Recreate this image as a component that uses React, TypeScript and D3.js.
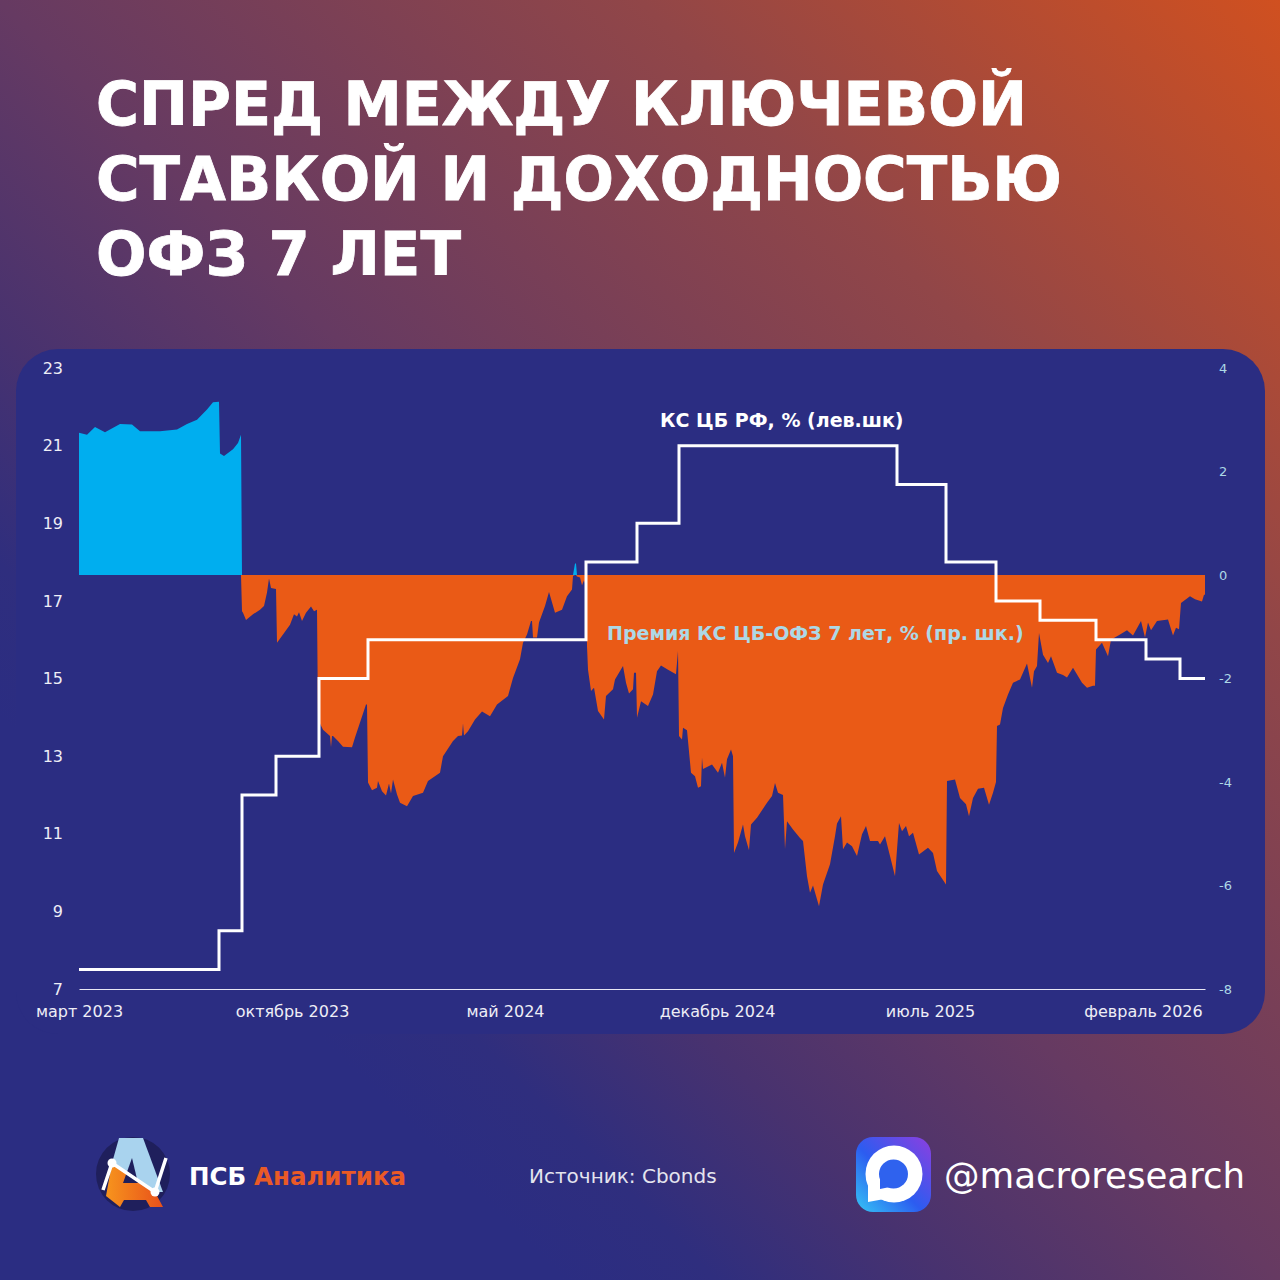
import React, { useEffect, useRef } from 'react'
import * as d3 from 'd3'

const titleLines = ['СПРЕД МЕЖДУ КЛЮЧЕВОЙ', 'СТАВКОЙ И ДОХОДНОСТЬЮ', 'ОФЗ 7 ЛЕТ']
const titleWidths = [931, 966, 365]

// category axis: observation number along the source chart
const lastObs = 1126
const tickObs = [0, 213, 426, 638, 851, 1064]
const tickLabels = ['март 2023', 'октябрь 2023', 'май 2024', 'декабрь 2024', 'июль 2025', 'февраль 2026']
const leftTicks = [7, 9, 11, 13, 15, 17, 19, 21, 23]
const rightTicks = [-8, -6, -4, -2, 0, 2, 4]

const rateObs = [0, 140, 163, 197, 240, 289, 507, 558, 600, 818, 867, 917, 961, 1017, 1067, 1101, 1126]
const rateValues = [7.5, 8.5, 12, 13, 15, 16, 18, 19, 21, 20, 18, 17, 16.5, 16, 15.5, 15, 15]

type Reading = [number, number]
const spreadRate8: Reading[] = [
  [0, 2.75], [8, 2.71], [16, 2.86], [26, 2.76], [41, 2.92], [53, 2.91], [61, 2.78], [81, 2.78], [98, 2.81],
  [108, 2.92], [118, 3.0], [128, 3.2], [134, 3.34], [140, 3.35], [141, 2.35], [145, 2.3], [154, 2.43], [159, 2.55], [162, 2.71],
]
const spreadRate12: Reading[] = [
  [163, -0.7], [164, -0.73], [167, -0.87], [174, -0.76], [181, -0.67], [185, -0.6], [188, -0.34], [190, -0.07], [192, -0.25], [197, -0.27],
  [198, -1.31], [204, -1.15], [211, -0.96], [215, -0.76], [218, -0.8], [220, -0.72], [223, -0.89], [227, -0.73], [232, -0.61], [235, -0.7], [238, -0.67],
]
const spreadRate15: Reading[] = [
  [239, -2.79], [244, -2.99], [251, -3.11], [252, -3.33], [253, -3.11], [254, -3.11], [259, -3.21], [264, -3.32], [273, -3.33], [276, -3.14], [281, -2.85], [287, -2.5], [288, -2.5],
]
const spreadRate16: Reading[] = [
  [289, -4.01], [293, -4.16], [298, -4.11], [299, -3.98], [303, -4.18], [307, -4.26], [310, -4.03], [312, -4.22], [314, -3.95], [318, -4.24],
  [321, -4.4], [328, -4.47], [334, -4.27], [344, -4.21], [349, -3.98], [361, -3.82], [364, -3.5], [374, -3.21], [379, -3.11], [383, -3.1], [384, -2.87], [385, -3.1],
  [389, -3.02], [396, -2.79], [403, -2.64], [411, -2.73], [418, -2.5], [429, -2.34], [434, -1.99], [441, -1.63], [444, -1.31], [448, -1.15], [452, -0.89], [453, -0.89], [454, -1.21],
  [458, -1.21], [460, -0.92], [466, -0.6], [470, -0.33], [476, -0.73], [483, -0.67], [488, -0.41], [493, -0.28], [494, -0.02], [496, 0.22], [497, 0.22], [498, -0.03],
  [501, -0.05], [503, -0.2], [505, -0.1], [507, -0.22],
]
const spreadRate18: Reading[] = [
  [508, -1.38], [509, -1.83], [512, -2.24], [515, -2.18], [519, -2.63], [525, -2.79], [527, -2.34], [534, -2.21], [536, -2.02], [544, -1.76], [547, -2.08], [550, -2.29], [554, -2.21], [555, -1.89], [557, -1.89],
  [558, -2.76], [562, -2.44], [569, -2.53], [574, -2.31], [578, -1.86], [582, -1.75], [589, -1.83], [597, -1.92], [599, -1.47],
]
const spreadRate21: Reading[] = [
  [600, -3.11], [603, -3.18], [604, -2.95], [608, -3.0], [612, -3.82], [616, -3.89], [619, -4.11], [622, -4.08], [623, -3.53], [624, -3.75], [633, -3.66], [639, -3.82], [643, -3.63], [646, -3.92], [648, -3.56], [652, -3.37], [654, -3.5],
  [655, -5.37], [659, -5.17], [664, -4.82], [666, -5.05], [670, -5.32], [672, -4.82], [678, -4.69], [688, -4.4], [693, -4.27], [696, -4.02], [699, -4.21], [704, -4.25], [706, -5.3], [708, -4.76], [714, -4.92], [721, -5.08], [724, -5.14],
  [728, -5.82], [731, -6.14], [734, -6.0], [740, -6.4], [744, -5.98], [751, -5.59], [756, -5.05], [758, -4.8], [762, -4.66], [764, -5.3], [768, -5.17], [773, -5.24], [778, -5.43], [783, -5.01], [787, -4.85], [791, -5.14], [799, -5.14],
  [801, -5.21], [806, -5.05], [811, -5.43], [816, -5.82],
]
const spreadRate20: Reading[] = [
  [820, -4.79], [823, -4.95], [827, -4.85], [830, -5.05], [834, -4.98], [840, -5.4], [849, -5.27], [854, -5.37], [858, -5.72], [867, -5.98],
]
const spreadRate18b: Reading[] = [
  [868, -3.98], [876, -3.95], [881, -4.31], [887, -4.43], [890, -4.66], [894, -4.31], [899, -4.13], [905, -4.11], [910, -4.44], [914, -4.21], [917, -4.0],
]
const spreadRate17: Reading[] = [
  [918, -2.92], [921, -2.89], [924, -2.57], [929, -2.31], [934, -2.08], [941, -2.02], [948, -1.71], [953, -2.18], [955, -1.86], [958, -1.76],
  [960, -1.12], [964, -1.54], [969, -1.7], [972, -1.57], [978, -1.89], [984, -1.93], [988, -1.98], [994, -1.79], [1003, -2.08], [1008, -2.18], [1014, -2.14], [1016, -2.14],
]
const spreadRate16b: Reading[] = [
  [1017, -1.44], [1023, -1.31], [1029, -1.57], [1032, -1.25], [1041, -1.15], [1048, -1.07], [1054, -1.17], [1062, -0.89], [1066, -1.21], [1069, -0.92], [1072, -1.07], [1078, -0.89], [1089, -0.86], [1094, -1.17], [1097, -1.02], [1100, -1.05],
  [1102, -0.54], [1111, -0.41], [1116, -0.47], [1123, -0.51], [1125, -0.38], [1126, -0.38],
]
const spread = [
  ...spreadRate8, ...spreadRate12, ...spreadRate15, ...spreadRate16, ...spreadRate18, ...spreadRate21,
  ...spreadRate20, ...spreadRate18b, ...spreadRate17, ...spreadRate16b,
]

const NAVY = '#2b2d82'
const ORANGE = '#ea5a16'
const CYAN = '#00aeef'
const PALE = '#add8e6'
const FONT = '"DejaVu Sans", sans-serif'

export default function App() {
  const svgRef = useRef<SVGSVGElement | null>(null)

  useEffect(() => {
    const svg = d3.select(svgRef.current)
    svg.selectAll('*').remove()

    const defs = svg.append('defs')
    const hot = defs.append('linearGradient').attr('id', 'hot')
      .attr('gradientUnits', 'userSpaceOnUse')
      .attr('x1', 1280).attr('y1', 0).attr('x2', 0).attr('y2', 1280)
    const hotStops: [number, string][] = [[0, '#d05020'], [0.25, '#914648'], [0.5, '#663a62'], [0.63, '#48326f'], [0.72, '#2f2e7e'], [0.78, NAVY], [1, NAVY]]
    hotStops.forEach(([o, c]) => hot.append('stop').attr('offset', o).attr('stop-color', c))
    const logoFill = defs.append('linearGradient').attr('id', 'logoFill').attr('x1', 0).attr('x2', 1)
    logoFill.append('stop').attr('offset', 0).attr('stop-color', '#f7941d')
    logoFill.append('stop').attr('offset', 1).attr('stop-color', '#e8501a')
    const chat = defs.append('linearGradient').attr('id', 'chat')
      .attr('x1', 0).attr('y1', 1).attr('x2', 1).attr('y2', 0)
    chat.append('stop').attr('offset', 0).attr('stop-color', '#35c6f5')
    chat.append('stop').attr('offset', 0.45).attr('stop-color', '#2c5cf0')
    chat.append('stop').attr('offset', 1).attr('stop-color', '#8d3fe0')

    svg.append('rect').attr('width', 1280).attr('height', 1280).attr('fill', 'url(#hot)')

    svg.append('g').selectAll('text').data(titleLines).join('text')
      .attr('x', 96).attr('y', (_, i) => 125 + i * 75)
      .attr('font-family', FONT).attr('font-weight', 700).attr('font-size', 60)
      .attr('textLength', (_, i) => titleWidths[i]).attr('lengthAdjust', 'spacingAndGlyphs')
      .attr('stroke', '#fff').attr('stroke-width', 0.8)
      .attr('fill', '#fff').text(d => d)

    svg.append('rect').attr('x', 16).attr('y', 349).attr('width', 1249).attr('height', 685)
      .attr('rx', 42).attr('fill', NAVY)

    const x = d3.scaleLinear().domain([0, lastObs]).range([79, 1205])
    const yLeft = d3.scaleLinear().domain([7, 23]).range([989, 368])
    const yRight = d3.scaleLinear().domain([-8, 4]).range([989, 368])

    const area = (pick: (v: number) => number) => d3.area<Reading>()
      .x(d => x(d[0])).y0(yRight(0)).y1(d => yRight(pick(d[1])))

    svg.append('path').datum(spread).attr('d', area(v => Math.min(v, 0))).attr('fill', ORANGE)
    svg.append('path').datum(spread).attr('d', area(v => Math.max(v, 0))).attr('fill', CYAN)

    const rateLine = d3.line<number>()
      .x((_, i) => x(rateObs[i])).y(d => yLeft(d)).curve(d3.curveStepAfter)
    svg.append('path').datum(rateValues).attr('d', rateLine)
      .attr('fill', 'none').attr('stroke', '#fff').attr('stroke-width', 3)

    const bottom = svg.append('g').attr('transform', `translate(0,${yLeft(7)})`)
      .call(d3.axisBottom(x).tickValues(tickObs).tickSize(0).tickPadding(17)
        .tickFormat((_, i) => tickLabels[i]))
    bottom.select('.domain').attr('stroke', '#e8e8f4').attr('stroke-width', 1)
    bottom.selectAll('text').attr('font-family', FONT).attr('font-size', 16).attr('fill', '#eeeef6')

    const left = svg.append('g').attr('transform', 'translate(79,0)')
      .call(d3.axisLeft(yLeft).tickValues(leftTicks).tickSize(0).tickPadding(16))
    left.select('.domain').remove()
    left.selectAll('text').attr('font-family', FONT).attr('font-size', 16).attr('fill', '#eeeef6')

    const right = svg.append('g').attr('transform', 'translate(1205,0)')
      .call(d3.axisRight(yRight).tickValues(rightTicks).tickSize(0).tickPadding(14)
        .tickFormat(d => String(d)))
    right.select('.domain').remove()
    right.selectAll('text').attr('font-family', FONT).attr('font-size', 13).attr('fill', PALE)

    const label = (tx: number, ty: number, text: string, fill: string, size: number, weight = 400) =>
      svg.append('text').attr('x', tx).attr('y', ty).attr('font-family', FONT)
        .attr('font-size', size).attr('font-weight', weight).attr('fill', fill).text(text)

    label(660, 427, 'КС ЦБ РФ, % (лев.шк)', '#fff', 19, 700)
    label(607, 640, 'Премия КС ЦБ-ОФЗ 7 лет, % (пр. шк.)', PALE, 19, 700)
    label(529, 1183, 'Источник: Cbonds', '#e4e4ee', 20)
    label(189, 1185, 'ПСБ', '#fff', 24.5, 700)
    label(254, 1185, 'Аналитика', '#ea5a26', 24.5, 700)
    label(944, 1188, '@macroresearch', '#fff', 35.6)

    // ПСБ logo
    const logo = svg.append('g')
    logo.append('circle').attr('cx', 133).attr('cy', 1174).attr('r', 37).attr('fill', '#1f1f5c')
    logo.append('path').attr('d', 'M119 1138 H143 L163 1192 L155 1192 L112 1163 Z').attr('fill', '#a9d3ee')
    logo.append('path').attr('d', 'M112 1163 L155 1192 L163 1207 L150 1207 L146 1200 H124 L120 1207 L106 1196 Z').attr('fill', 'url(#logoFill)')
    logo.append('path').attr('d', 'M132 1158 L138 1183 L123 1183 Z').attr('fill', '#1f1f5c')
    logo.append('path').attr('d', 'M103 1190 L112 1163 L155 1192 L166 1158')
      .attr('fill', 'none').attr('stroke', '#fff').attr('stroke-width', 3.5)
    logo.append('circle').attr('cx', 112).attr('cy', 1163).attr('r', 4.5).attr('fill', '#fff')
    logo.append('circle').attr('cx', 155).attr('cy', 1192).attr('r', 4.5).attr('fill', '#fff')

    // channel icon
    const icon = svg.append('g')
    icon.append('rect').attr('x', 856).attr('y', 1137).attr('width', 75).attr('height', 75)
      .attr('rx', 17).attr('fill', 'url(#chat)')
    icon.append('circle').attr('cx', 894).attr('cy', 1174).attr('r', 28.5).attr('fill', '#fff')
    icon.append('path').attr('d', 'M868 1170 L868 1202 L890 1198 Z').attr('fill', '#fff')
    icon.append('circle').attr('cx', 893.5).attr('cy', 1174).attr('r', 14.5).attr('fill', '#2f62ee')
    icon.append('path').attr('d', 'M880 1176 L880 1189 L890 1187 Z').attr('fill', '#2f62ee')
  }, [])

  return (
    <svg ref={svgRef} width={1280} height={1280} viewBox="0 0 1280 1280"
      style={{ position: 'absolute', left: 0, top: 0, display: 'block' }} />
  )
}
